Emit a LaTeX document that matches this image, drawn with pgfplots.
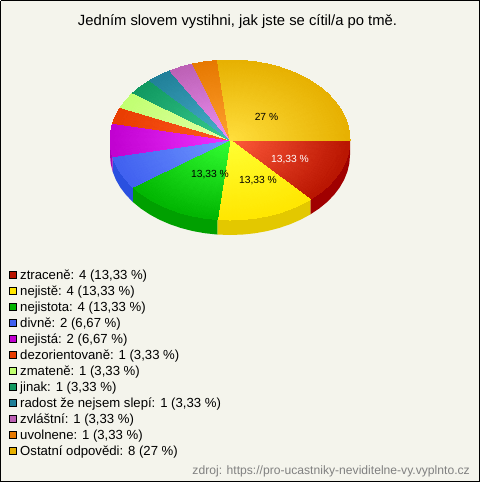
\documentclass[border=0pt]{standalone}
\usepackage{fontspec}
\setmainfont{Liberation Sans}
\usepackage{pgfplots}
\pgfplotsset{compat=1.18}
\usepgfplotslibrary{patchplots}
\definecolor{bg}{HTML}{F4F4EC}
\definecolor{a0}{HTML}{FF5A3A}\definecolor{a1}{HTML}{B81400}
\definecolor{b0}{HTML}{FFFF33}\definecolor{b1}{HTML}{FFE600}
\definecolor{c0}{HTML}{33FF33}\definecolor{c1}{HTML}{00B400}
\definecolor{d0}{HTML}{7098FF}\definecolor{d1}{HTML}{4060F0}
\definecolor{e0}{HTML}{F033FF}\definecolor{e1}{HTML}{C000D0}
\definecolor{f0}{HTML}{FF5A20}\definecolor{f1}{HTML}{E83C00}
\definecolor{g0}{HTML}{E4FFA8}\definecolor{g1}{HTML}{C0FF70}
\definecolor{h0}{HTML}{38CC90}\definecolor{h1}{HTML}{109860}
\definecolor{i0}{HTML}{48B0CC}\definecolor{i1}{HTML}{207F98}
\definecolor{j0}{HTML}{EC90F4}\definecolor{j1}{HTML}{BC60B4}
\definecolor{k0}{HTML}{FFA030}\definecolor{k1}{HTML}{E67800}
\definecolor{l0}{HTML}{FFDE3C}\definecolor{l1}{HTML}{E6B000}
\newcommand{\lgd}{\fontsize{13.15}{15}\selectfont}
\pgfplotsset{leg/.style={only marks,mark=square*,mark size=3.5pt,mark options={draw=black,line width=0.9pt,fill=#1}}}
\pgfplotsset{wedge/.style={patch,patch type=triangle,shader=interp,mesh/color input=explicit}}
\begin{document}
\begin{tikzpicture}
\begin{axis}[scale only axis,width=480pt,height=482pt,xmin=0,xmax=480,ymin=0,ymax=482,y dir=reverse,axis lines=none,clip=false]
\addplot[fill=bg,draw=black,line width=1pt] coordinates {(0.5,0.5)(479.5,0.5)(479.5,481)(0.5,481)(0.5,0.5)};
\addplot[draw=black,line width=1pt] coordinates {(0.5,481.5)(479.5,481.5)};
% side walls
\addplot[fill={rgb,255:red,160;green,0;blue,0},draw=none] coordinates {(350,140)(349.34,148.36)(347.38,156.63)(344.13,164.72)(339.63,172.54)(333.92,180)(327.08,187.02)(319.18,193.53)(310.30,199.45)(310.30,214.45)(319.18,208.53)(327.08,202.02)(333.92,195)(339.63,187.54)(344.13,179.72)(347.38,171.63)(349.34,163.36)(350,155)};
\addplot[fill={rgb,255:red,227;green,200;blue,0},draw=none] coordinates {(310.30,199.45)(300.53,204.72)(290,209.28)(278.81,213.08)(267.08,216.08)(254.95,218.25)(242.54,219.56)(230,220)(217.46,219.56)(217.46,234.56)(230,235)(242.54,234.56)(254.95,233.25)(267.08,231.08)(278.81,228.08)(290,224.28)(300.53,219.72)(310.30,214.45)};
\addplot[fill={rgb,255:red,0;green,160;blue,0},draw=none] coordinates {(217.46,219.56)(205.05,218.25)(192.92,216.08)(181.19,213.08)(170,209.28)(159.47,204.72)(149.70,199.45)(140.82,193.53)(132.92,187.02)(132.92,202.02)(140.82,208.53)(149.70,214.45)(159.47,219.72)(170,224.28)(181.19,228.08)(192.92,231.08)(205.05,233.25)(217.46,234.56)};
\addplot[fill={rgb,255:red,42;green,80;blue,224},draw=none] coordinates {(132.92,187.02)(126.08,180)(120.37,172.54)(115.87,164.72)(112.62,156.63)(112.62,171.63)(115.87,179.72)(120.37,187.54)(126.08,195)(132.92,202.02)};
\addplot[fill={rgb,255:red,168;green,0;blue,184},draw=none] coordinates {(112.62,156.63)(110.66,148.36)(110,140)(110,155)(110.66,163.36)(112.62,171.63)};
% top surface
\addplot[wedge] coordinates {
(230,140)[color=a0](350,140)[color=a1](349.34,148.36)[color=a1]
(230,140)[color=a0](349.34,148.36)[color=a1](347.38,156.63)[color=a1]
(230,140)[color=a0](347.38,156.63)[color=a1](344.13,164.72)[color=a1]
(230,140)[color=a0](344.13,164.72)[color=a1](339.63,172.54)[color=a1]
(230,140)[color=a0](339.63,172.54)[color=a1](333.92,180)[color=a1]
(230,140)[color=a0](333.92,180)[color=a1](327.08,187.02)[color=a1]
(230,140)[color=a0](327.08,187.02)[color=a1](319.18,193.53)[color=a1]
(230,140)[color=a0](319.18,193.53)[color=a1](310.30,199.45)[color=a1]
};
\addplot[wedge] coordinates {
(230,140)[color=b0](310.30,199.45)[color=b1](300.53,204.72)[color=b1]
(230,140)[color=b0](300.53,204.72)[color=b1](290,209.28)[color=b1]
(230,140)[color=b0](290,209.28)[color=b1](278.81,213.08)[color=b1]
(230,140)[color=b0](278.81,213.08)[color=b1](267.08,216.08)[color=b1]
(230,140)[color=b0](267.08,216.08)[color=b1](254.95,218.25)[color=b1]
(230,140)[color=b0](254.95,218.25)[color=b1](242.54,219.56)[color=b1]
(230,140)[color=b0](242.54,219.56)[color=b1](230,220)[color=b1]
(230,140)[color=b0](230,220)[color=b1](217.46,219.56)[color=b1]
};
\addplot[wedge] coordinates {
(230,140)[color=c0](217.46,219.56)[color=c1](205.05,218.25)[color=c1]
(230,140)[color=c0](205.05,218.25)[color=c1](192.92,216.08)[color=c1]
(230,140)[color=c0](192.92,216.08)[color=c1](181.19,213.08)[color=c1]
(230,140)[color=c0](181.19,213.08)[color=c1](170,209.28)[color=c1]
(230,140)[color=c0](170,209.28)[color=c1](159.47,204.72)[color=c1]
(230,140)[color=c0](159.47,204.72)[color=c1](149.70,199.45)[color=c1]
(230,140)[color=c0](149.70,199.45)[color=c1](140.82,193.53)[color=c1]
(230,140)[color=c0](140.82,193.53)[color=c1](132.92,187.02)[color=c1]
};
\addplot[wedge] coordinates {
(230,140)[color=d0](132.92,187.02)[color=d1](126.08,180)[color=d1]
(230,140)[color=d0](126.08,180)[color=d1](120.37,172.54)[color=d1]
(230,140)[color=d0](120.37,172.54)[color=d1](115.87,164.72)[color=d1]
(230,140)[color=d0](115.87,164.72)[color=d1](112.62,156.63)[color=d1]
};
\addplot[wedge] coordinates {
(230,140)[color=e0](112.62,156.63)[color=e1](110.66,148.36)[color=e1]
(230,140)[color=e0](110.66,148.36)[color=e1](110,140)[color=e1]
(230,140)[color=e0](110,140)[color=e1](110.66,131.64)[color=e1]
(230,140)[color=e0](110.66,131.64)[color=e1](112.62,123.37)[color=e1]
};
\addplot[wedge] coordinates {
(230,140)[color=f0](112.62,123.37)[color=f1](115.87,115.28)[color=f1]
(230,140)[color=f0](115.87,115.28)[color=f1](120.37,107.46)[color=f1]
};
\addplot[wedge] coordinates {
(230,140)[color=g0](120.37,107.46)[color=g1](126.08,100)[color=g1]
(230,140)[color=g0](126.08,100)[color=g1](132.92,92.98)[color=g1]
};
\addplot[wedge] coordinates {
(230,140)[color=h0](132.92,92.98)[color=h1](140.82,86.47)[color=h1]
(230,140)[color=h0](140.82,86.47)[color=h1](149.70,80.55)[color=h1]
};
\addplot[wedge] coordinates {
(230,140)[color=i0](149.70,80.55)[color=i1](159.47,75.28)[color=i1]
(230,140)[color=i0](159.47,75.28)[color=i1](170,70.72)[color=i1]
};
\addplot[wedge] coordinates {
(230,140)[color=j0](170,70.72)[color=j1](181.19,66.92)[color=j1]
(230,140)[color=j0](181.19,66.92)[color=j1](192.92,63.92)[color=j1]
};
\addplot[wedge] coordinates {
(230,140)[color=k0](192.92,63.92)[color=k1](205.05,61.75)[color=k1]
(230,140)[color=k0](205.05,61.75)[color=k1](217.46,60.44)[color=k1]
};
\addplot[wedge] coordinates {
(230,140)[color=l0](217.46,60.44)[color=l1](230,60)[color=l1]
(230,140)[color=l0](230,60)[color=l1](242.54,60.44)[color=l1]
(230,140)[color=l0](242.54,60.44)[color=l1](254.95,61.75)[color=l1]
(230,140)[color=l0](254.95,61.75)[color=l1](267.08,63.92)[color=l1]
(230,140)[color=l0](267.08,63.92)[color=l1](278.81,66.92)[color=l1]
(230,140)[color=l0](278.81,66.92)[color=l1](290,70.72)[color=l1]
(230,140)[color=l0](290,70.72)[color=l1](300.53,75.28)[color=l1]
(230,140)[color=l0](300.53,75.28)[color=l1](310.30,80.55)[color=l1]
(230,140)[color=l0](310.30,80.55)[color=l1](319.18,86.47)[color=l1]
(230,140)[color=l0](319.18,86.47)[color=l1](327.08,92.98)[color=l1]
(230,140)[color=l0](327.08,92.98)[color=l1](333.92,100)[color=l1]
(230,140)[color=l0](333.92,100)[color=l1](339.63,107.46)[color=l1]
(230,140)[color=l0](339.63,107.46)[color=l1](344.13,115.28)[color=l1]
(230,140)[color=l0](344.13,115.28)[color=l1](347.38,123.37)[color=l1]
(230,140)[color=l0](347.38,123.37)[color=l1](349.34,131.64)[color=l1]
(230,140)[color=l0](349.34,131.64)[color=l1](350,140)[color=l1]
};
% legend markers
\addplot[leg=a1] coordinates {(13,274.5)};
\addplot[leg=b1] coordinates {(13,290.5)};
\addplot[leg=c1] coordinates {(13,306.5)};
\addplot[leg=d1] coordinates {(13,322.5)};
\addplot[leg=e1] coordinates {(13,338.5)};
\addplot[leg=f1] coordinates {(13,354.5)};
\addplot[leg=g1] coordinates {(13,370.5)};
\addplot[leg=h1] coordinates {(13,386.5)};
\addplot[leg=i1] coordinates {(13,402.5)};
\addplot[leg=j1] coordinates {(13,418.5)};
\addplot[leg=k1] coordinates {(13,434.5)};
\addplot[leg=l1] coordinates {(13,450.5)};
% texts
\node[anchor=base,text=black] at (axis cs:237.5,25) {\fontsize{14.8}{17}\selectfont Jedním slovem vystihni, jak jste se cítil/a po tmě.};
\node[anchor=center,text=white] at (axis cs:290,159.5) {\fontsize{10.3}{12}\selectfont 13,33 \%};
\node[anchor=center,text=black] at (axis cs:258,180.5) {\fontsize{10.3}{12}\selectfont 13,33 \%};
\node[anchor=center,text=black] at (axis cs:210,175) {\fontsize{10.3}{12}\selectfont 13,33 \%};
\node[anchor=center,text=black] at (axis cs:266.5,117) {\fontsize{10.3}{12}\selectfont 27 \%};
\node[anchor=base west,inner sep=0pt] at (axis cs:20,279) {\lgd ztraceně: 4 (13,33 \%)};
\node[anchor=base west,inner sep=0pt] at (axis cs:20,295) {\lgd nejistě: 4 (13,33 \%)};
\node[anchor=base west,inner sep=0pt] at (axis cs:20,311) {\lgd nejistota: 4 (13,33 \%)};
\node[anchor=base west,inner sep=0pt] at (axis cs:20,327) {\lgd divně: 2 (6,67 \%)};
\node[anchor=base west,inner sep=0pt] at (axis cs:20,343) {\lgd nejistá: 2 (6,67 \%)};
\node[anchor=base west,inner sep=0pt] at (axis cs:20,359) {\lgd dezorientovaně: 1 (3,33 \%)};
\node[anchor=base west,inner sep=0pt] at (axis cs:20,375) {\lgd zmateně: 1 (3,33 \%)};
\node[anchor=base west,inner sep=0pt] at (axis cs:20,391) {\lgd jinak: 1 (3,33 \%)};
\node[anchor=base west,inner sep=0pt] at (axis cs:20,407) {\lgd radost že nejsem slepí: 1 (3,33 \%)};
\node[anchor=base west,inner sep=0pt] at (axis cs:20,423) {\lgd zvláštní: 1 (3,33 \%)};
\node[anchor=base west,inner sep=0pt] at (axis cs:20,439) {\lgd uvolnene: 1 (3,33 \%)};
\node[anchor=base west,inner sep=0pt] at (axis cs:20,455) {\lgd Ostatní odpovědi: 8 (27 \%)};
\node[anchor=base east,inner sep=0pt,text={rgb,255:red,128;green,128;blue,128}] at (axis cs:470,474) {\fontsize{12.13}{14}\selectfont zdroj: https://pro-ucastniky-neviditelne-vy.vyplnto.cz};
\end{axis}
\end{tikzpicture}
\end{document}
